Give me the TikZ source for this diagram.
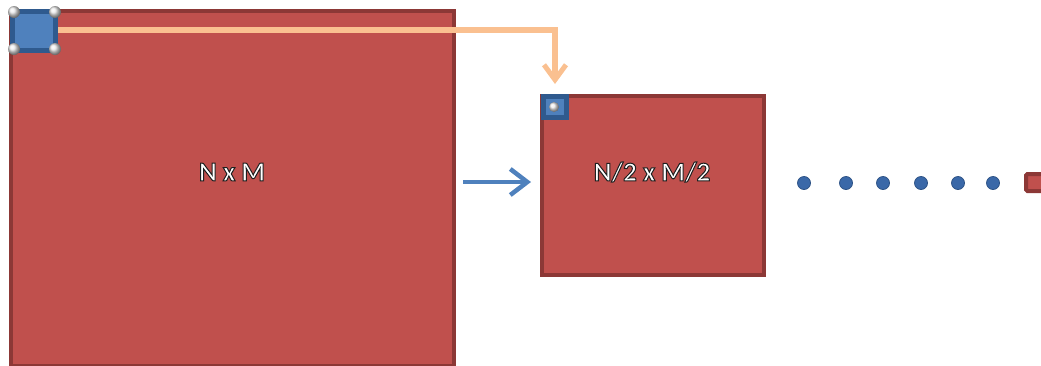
\documentclass[tikz,border=0pt]{standalone}
\usepackage{fontspec}
\setmainfont{Carlito}
\usetikzlibrary{arrows.meta}
\definecolor{redfill}{HTML}{C0504D}
\definecolor{redline}{HTML}{8C3836}
\definecolor{bluefill}{HTML}{4F81BD}
\definecolor{blueline}{HTML}{2F5A8E}
\definecolor{peach}{HTML}{FAC090}
\definecolor{dotblue}{HTML}{3A68A8}
% white letters with a dark stroked edge (text render mode 2)
\newcommand\edgedtext[1]{%
  \special{pdf:literal direct 2 Tr 1 w 0.12 0.12 0.12 RG 1 g}#1%
  \special{pdf:literal direct 0 Tr}}
\begin{document}
\begin{tikzpicture}[x=1pt,y=-1pt,
  grid/.style={draw=redline,fill=redfill,line width=4pt},
  block/.style={draw=blueline,fill=bluefill,line width=5pt},
  ball/.style={circle,inner sep=0pt,minimum size=#1,shading=ball,ball color=white!85!gray},
  dotnode/.style={circle,inner sep=0pt,minimum size=13pt,fill=dotblue,draw=dotblue!80!black,line width=0.8pt},
  lbl/.style={text=white,font=\bfseries\fontsize{27}{32}\selectfont}]
\useasboundingbox (0,0) rectangle (1041,365);
% full-size grid
\draw[grid] (11,11) rectangle (454,366);
% half-size grid
\draw[grid] (542,96) rectangle (764,275);
% 2x2 block on the full grid
\draw[block] (12.5,11) rectangle (55,50);
\node[ball=12pt] (p1) at (14,12) {};
\node[ball=12pt] (p2) at (55,12) {};
\node[ball=12pt] (p3) at (14,49) {};
\node[ball=12pt] (p4) at (55,49) {};
% single pixel on the half grid
\draw[block] (543,96.5) rectangle (566,117);
\node[ball=10pt] (q) at (554,107) {};
% reduction path
\coordinate (src) at (58,30);
\coordinate (dst) at (555,84);
\draw[peach,line width=5.5pt,-{Straight Barb[length=15pt,width=22pt,line width=5pt]}] (src) -| (dst);
\coordinate (a1) at (463,182);
\coordinate (a2) at (531,182);
\draw[bluefill,line width=4.5pt,-{Straight Barb[length=17pt,width=26pt,line width=4.5pt]}] (a1) -- (a2);
% further levels
\foreach \i/\x in {1/804,2/846,3/883,4/921,5/958,6/993}
  \node[dotnode] (d\i) at (\x,183) {};
\draw[grid,rounded corners=1.5pt] (1026,174) rectangle (1052,191);
% size labels
\node[lbl] (big) at (232,172) {\edgedtext{N x M}};
\node[lbl] (half) at (652,172) {\edgedtext{N/2 x M/2}};
\end{tikzpicture}
\end{document}
